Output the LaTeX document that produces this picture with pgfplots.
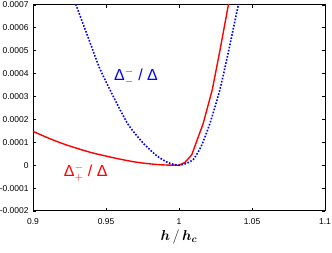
\documentclass[border=0pt]{standalone}
\usepackage{pgfplots}
\pgfplotsset{compat=1.18}
\usepackage{bm}
\usepackage{fontspec}
\setmainfont{Liberation Sans}
\begin{document}
\begin{tikzpicture}
\begin{axis}[
  scale only axis,
  width=292bp, height=206bp,
  xmin=0.9, xmax=1.1, ymin=-0.0002, ymax=0.0007,
  xtick={0.9,0.95,1,1.05,1.1},
  xticklabels={0.9,0.95,1,1.05,1.1},
  ytick={-0.0002,-0.0001,0,0.0001,0.0002,0.0003,0.0004,0.0005,0.0006,0.0007},
  yticklabels={-0.0002,-0.0001,0,0.0001,0.0002,0.0003,0.0004,0.0005,0.0006,0.0007},
  scaled y ticks=false,
  tick align=inside,
  major tick length=3bp,
  tick style={black, line width=0.8pt},
  axis line style={black, line width=1pt},
  ticklabel style={font=\fontsize{8.5}{9}\selectfont},
  xticklabel style={yshift=-4bp},
  yticklabel style={xshift=-1bp},
  clip=true,
]
\addplot[red, line width=1.4pt, smooth, tension=0.4] coordinates {
 (0.9,0.000148) (0.91,0.00012) (0.92,0.000095) (0.93,0.000074) (0.94,0.000055)
 (0.95,0.00004) (0.96,0.000026) (0.97,0.000014) (0.98,0.000006) (0.99,0.000001)
 (1.0,0.0)
};
\addplot[red, line width=1.4pt] coordinates {
 (1.0,0.0) (1.004,0.000012) (1.0087,0.000045) (1.0166,0.000183) (1.0228,0.00033)
 (1.028,0.0005) (1.0338,0.0007) (1.0345,0.00073)
};
\addplot[blue, line width=1.6pt, dash pattern=on 1.6pt off 1.6pt, smooth, tension=0.4] coordinates {
 (0.928,0.00073) (0.9295,0.0007) (0.94,0.00052) (0.9459,0.00042) (0.955,0.0003)
 (0.965,0.00018) (0.975,0.0001) (0.985,0.00004) (0.993,0.00001) (1.0,0.0)
 (1.005,0.000008) (1.0098,0.000025) (1.015,0.00008) (1.0212,0.000183)
 (1.028,0.00033) (1.034,0.0005) (1.0406,0.0007) (1.0415,0.00073)
};
\node[blue, anchor=west, inner sep=0pt, font=\fontsize{16}{16}\selectfont]
  at (axis cs:0.9555,0.000386) {Δ$^{-}_{-}$ / Δ};
\node[red, anchor=west, inner sep=0pt, font=\fontsize{16}{16}\selectfont]
  at (axis cs:0.921,-0.000034) {Δ$^{-}_{+}$ / Δ};
\end{axis}
\node[font=\fontsize{14}{14}\selectfont] at ([yshift=-26bp]current axis.south) {$\bm{h}\,/\,\bm{h}_{\bm{c}}$};
\pgfresetboundingbox
\useasboundingbox ([xshift=-33bp,yshift=-42bp]current axis.south west) rectangle ([xshift=7bp,yshift=5bp]current axis.north east);
\end{tikzpicture}
\end{document}
